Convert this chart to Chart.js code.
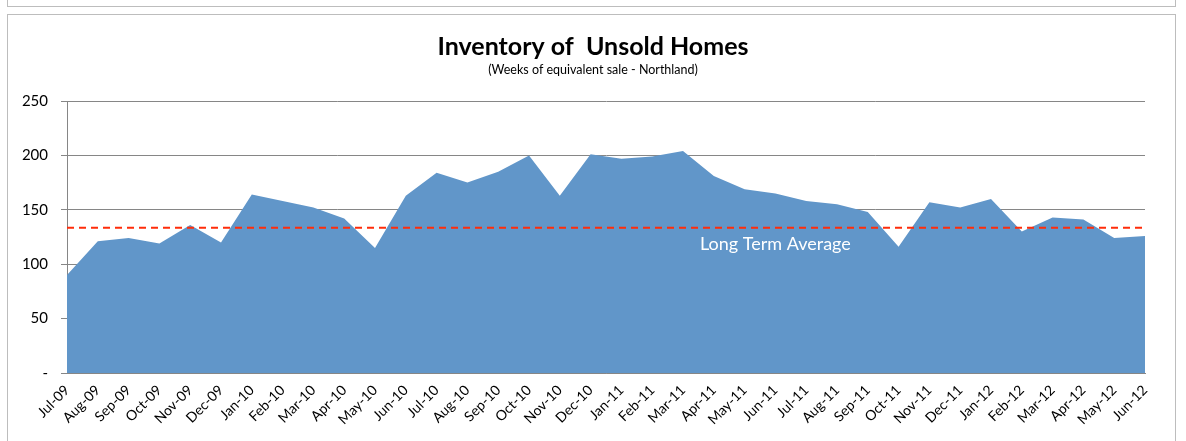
<!DOCTYPE html>
<html>
<head>
<meta charset="utf-8">
<script src="https://cdn.jsdelivr.net/npm/chart.js@4.4.1/dist/chart.umd.min.js"></script>
<style>
  html, body { margin: 0; padding: 0; background: #fff; }
  #wrap { position: relative; width: 1186px; height: 441px; overflow: hidden; }
  #topBox { position: absolute; left: 7px; top: -10px; width: 1167px; height: 15px; border: 1px solid #bdbdbd; }
  #frame { position: absolute; left: 7px; top: 14px; width: 1167px; height: 460px; border: 1px solid #bdbdbd; }
  #c { position: absolute; left: 0; top: 0; }
</style>
</head>
<body>
<div id="wrap">
  <div id="topBox"></div>
  <div id="frame"></div>
  <canvas id="c" width="1186" height="441"></canvas>
</div>
<script>
const months = ['Jul-09','Aug-09','Sep-09','Oct-09','Nov-09','Dec-09','Jan-10','Feb-10','Mar-10','Apr-10','May-10','Jun-10',
  'Jul-10','Aug-10','Sep-10','Oct-10','Nov-10','Dec-10','Jan-11','Feb-11','Mar-11','Apr-11','May-11','Jun-11',
  'Jul-11','Aug-11','Sep-11','Oct-11','Nov-11','Dec-11','Jan-12','Feb-12','Mar-12','Apr-12','May-12','Jun-12'];
const weeksOfSale = [90, 121, 124, 119, 136, 120, 164, 158, 152, 142, 115, 163,
  184, 175, 185, 200, 163, 201, 197, 199, 204, 181, 169, 165,
  158, 155, 148, 116, 157, 152, 160, 130, 143, 141, 124, 126];
const longTermAverage = 133.5;
const avgLine = months.map(() => longTermAverage);
const avgLabel = 'Long Term Average';
const avgLabelAt = 'Jun-11';
const titleText = 'Inventory of  Unsold Homes';
const subtitleText = '(Weeks of equivalent sale - Northland)';

const FONT = 'Lato, Calibri, "Liberation Sans", sans-serif';

// title + subtitle centred on the whole canvas (the chart's own title centres on the padded box)
const headings = {
  id: 'headings',
  afterDraw(chart) {
    const ctx = chart.ctx;
    const cx = chart.width / 2;
    ctx.save();
    ctx.fillStyle = '#000';
    ctx.textAlign = 'center';
    ctx.textBaseline = 'middle';
    ctx.font = 'bold 25px ' + FONT;
    ctx.fillText(titleText, cx, 47);
    ctx.font = '12.5px ' + FONT;
    ctx.fillText(subtitleText, cx, 70);
    ctx.restore();
  }
};

const avgText = {
  id: 'avgText',
  afterDatasetsDraw(chart) {
    const { ctx, scales } = chart;
    const x = scales.x.getPixelForValue(months.indexOf(avgLabelAt));
    const y = scales.y.getPixelForValue(longTermAverage);
    ctx.save();
    ctx.font = '18px ' + FONT;
    ctx.fillStyle = '#ffffff';
    ctx.textAlign = 'center';
    ctx.textBaseline = 'middle';
    ctx.fillText(avgLabel, x, y + 16);
    ctx.restore();
  }
};

new Chart(document.getElementById('c').getContext('2d'), {
  type: 'line',
  data: {
    labels: months,
    datasets: [
      { label: 'Average', data: avgLine, borderColor: '#ff2d0a', borderWidth: 2, borderDash: [7, 5],
        pointRadius: 0, fill: false, order: 0 },
      { label: 'Weeks', data: weeksOfSale, borderColor: '#6196c9', backgroundColor: '#6196c9', borderWidth: 0,
        pointRadius: 0, fill: 'origin', tension: 0, order: 1 }
    ]
  },
  options: {
    responsive: false,
    animation: false,
    layout: { padding: { left: 0, right: 41, top: 101, bottom: 0 } },
    plugins: {
      legend: { display: false },
      tooltip: { enabled: false },
      title: { display: false }
    },
    scales: {
      x: {
        offset: false,
        grid: { display: false, drawOnChartArea: false, drawTicks: true, tickLength: 5, tickColor: '#868686' },
        border: { color: '#868686' },
        ticks: { color: '#000', font: { family: FONT, size: 14 }, maxRotation: 45, minRotation: 45, autoSkip: false, padding: 4 },
        afterFit(s) { s.height = 68; }
      },
      y: {
        min: 0, max: 250,
        grid: { color: '#868686', tickLength: 6, tickColor: '#868686' },
        border: { color: '#868686' },
        ticks: { stepSize: 50, color: '#000', font: { family: FONT, size: 15 }, padding: 13,
          callback: v => v === 0 ? '-' : v },
        afterFit(s) { s.width = 67; }
      }
    }
  },
  plugins: [avgText, headings]
});
</script>
</body>
</html>
